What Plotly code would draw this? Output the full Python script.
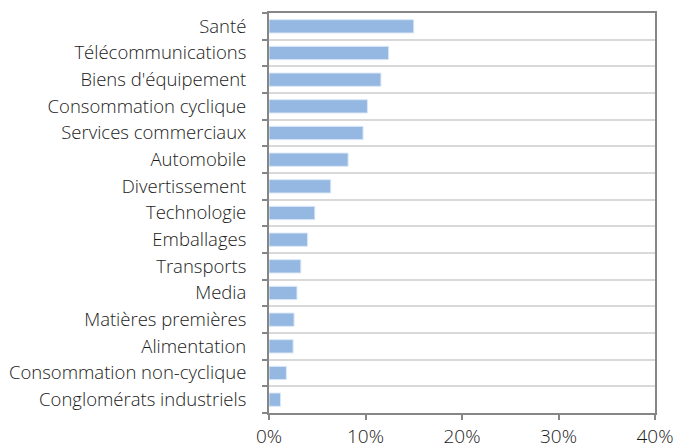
import plotly.graph_objects as go

# Sector weights (share of portfolio, %)
sectors = [
    "Santé",
    "Télécommunications",
    "Biens d'équipement",
    "Consommation cyclique",
    "Services commerciaux",
    "Automobile",
    "Divertissement",
    "Technologie",
    "Emballages",
    "Transports",
    "Media",
    "Matières premières",
    "Alimentation",
    "Consommation non-cyclique",
    "Conglomérats industriels",
]
weights = [15.0, 12.4, 11.6, 10.2, 9.75, 8.2, 6.4, 4.75, 4.0, 3.3, 2.9, 2.6, 2.5, 1.8, 1.2]
x_ticks = [0, 10, 20, 30, 40]
x_tick_labels = ["0%", "10%", "20%", "30%", "40%"]

# bottom-to-top order so the first sector sits at the top
cats = sectors[::-1]
vals = [w / 100 for w in weights[::-1]]
n = len(cats)
boundaries = [i - 0.5 for i in range(n + 1)]

FONT = "Open Sans"

fig = go.Figure()
fig.add_trace(go.Bar(
    x=vals,
    y=cats,
    orientation="h",
    width=0.5,
    marker=dict(color="#95b8e2", line=dict(color="#dce8f6", width=1)),
    hoverinfo="x+y",
))
# invisible trace that carries the boundary axis (gridlines + ticks between categories)
fig.add_trace(go.Scatter(
    x=[0, 0], y=[boundaries[0], boundaries[-1]],
    yaxis="y2", mode="lines", line=dict(width=0),
    hoverinfo="skip", showlegend=False,
))

fig.update_layout(
    width=680,
    height=448,
    margin=dict(l=269, r=25, t=13, b=35),
    paper_bgcolor="white",
    plot_bgcolor="white",
    showlegend=False,
    bargap=0.5,
    xaxis=dict(
        range=[0, 0.4],
        tickvals=[t / 100 for t in x_ticks],
        ticktext=x_tick_labels,
        ticks="outside",
        ticklen=5,
        tickwidth=2,
        tickcolor="#868686",
        showgrid=False,
        zeroline=False,
        showline=True,
        linecolor="#868686",
        linewidth=2,
        mirror=True,
        automargin=False,
        ticklabelstandoff=0,
        tickfont=dict(family=FONT, size=19, color="#1a1a1a", weight=300),
        fixedrange=True,
    ),
    yaxis=dict(
        type="category",
        categoryorder="array",
        categoryarray=cats,
        range=[-0.5, n - 0.5],
        ticks="",
        showgrid=False,
        showline=True,
        linecolor="#868686",
        linewidth=2,
        mirror=True,
        automargin=False,
        ticklabelstandoff=17,
        tickfont=dict(family=FONT, size=18.5, color="#1a1a1a", weight=300),
        fixedrange=True,
    ),
    yaxis2=dict(
        overlaying="y",
        side="left",
        range=[-0.5, n - 0.5],
        tickvals=boundaries,
        showticklabels=False,
        ticks="outside",
        ticklen=6,
        tickwidth=2,
        tickcolor="#868686",
        showgrid=True,
        gridcolor="#d9d9d9",
        gridwidth=2,
        zeroline=False,
        showline=False,
        automargin=False,
        fixedrange=True,
        layer="below traces",
    ),
)

fig.write_html("out.html")
